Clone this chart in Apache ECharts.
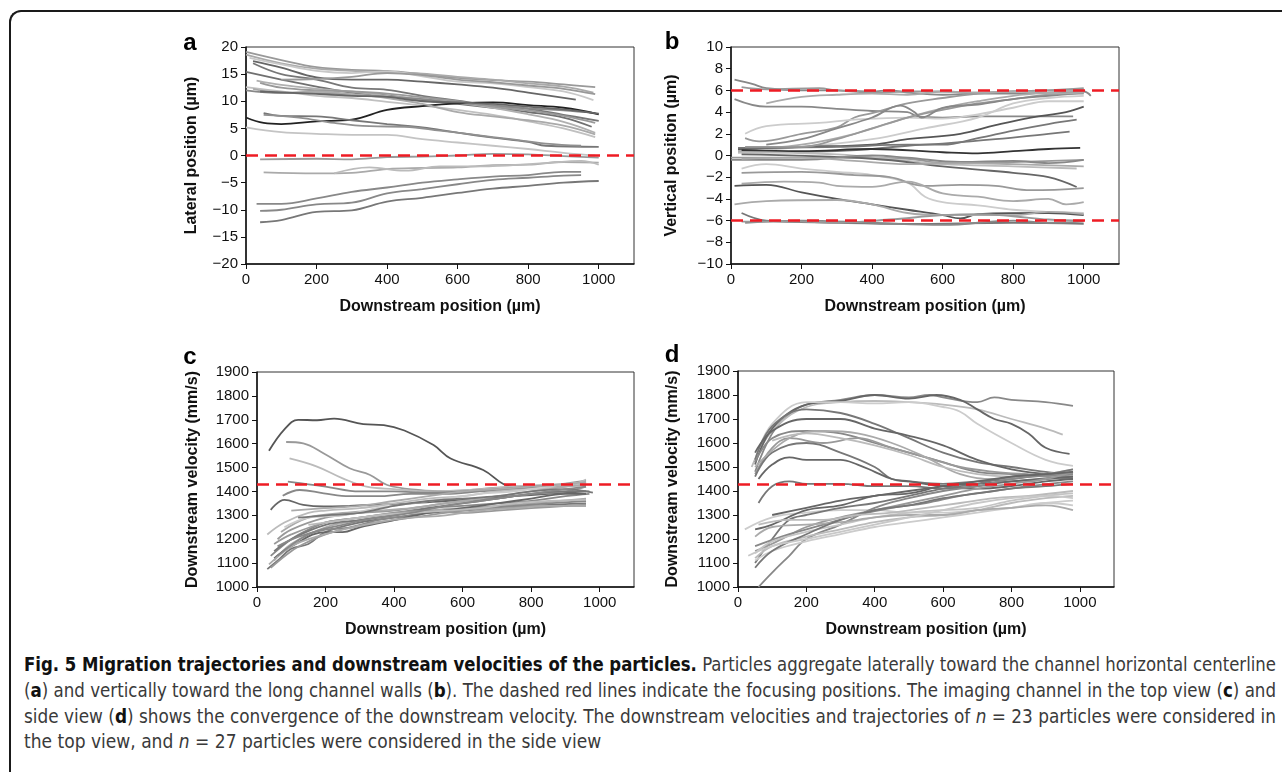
<!DOCTYPE html>
<html lang="en">
<head>
<meta charset="UTF-8">
<title>Fig. 5 Migration trajectories and downstream velocities</title>
<script src="https://cdn.jsdelivr.net/npm/echarts@6/dist/echarts.min.js"></script>
<style>
  html, body { margin: 0; padding: 0; background: #fff; overflow: hidden; }
  #frame {
    position: absolute; left: 9px; top: 10px; width: 1320px; height: 800px;
    border-top: 2.5px solid #1a1a1a; border-left: 2.5px solid #1a1a1a;
    border-radius: 12px 0 0 12px; box-sizing: border-box;
  }
  #main { position: absolute; left: 0; top: 0; width: 1282px; height: 645px; }
  .ln {
    position: absolute; left: 24px; display: inline-block; white-space: nowrap;
    font-family: 'Liberation Sans Narrow', 'DejaVu Sans Condensed', 'Liberation Sans', sans-serif;
    font-size: 19px; color: #3a3a3a; transform-origin: 0 50%;
  }
  .ln b { color: #111; }
</style>
</head>
<body>
<div id="frame"></div>
<div id="main"></div>
<div class="ln" data-w="1252" style="top:653px"><b>Fig. 5 Migration trajectories and downstream velocities of the particles.</b> Particles aggregate laterally toward the channel horizontal centerline</div>
<div class="ln" data-w="1252" style="top:679px">(<b>a</b>) and vertically toward the long channel walls (<b>b</b>). The dashed red lines indicate the focusing positions. The imaging channel in the top view (<b>c</b>) and</div>
<div class="ln" data-w="1252" style="top:705px">side view (<b>d</b>) shows the convergence of the downstream velocity. The downstream velocities and trajectories of <i>n</i> = 23 particles were considered in</div>
<div class="ln" style="top:730px">the top view, and <i>n</i> = 27 particles were considered in the side view</div>
<script type="text/javascript">
// ---- data: each trajectory is [position µm, value] pairs ----
var xTicks = [0, 200, 400, 600, 800, 1000];

// a: lateral position (µm)
var aLines = [
  [[0,19.1],[100,17.6],[200,16.3],[300,15.8],[400,15.6],[500,15.0],[600,14.3],[700,13.9],[800,13.6],[900,13.1],[990,12.6]],
  [[0,18.6],[100,17.0],[200,16.0],[300,15.6],[400,15.3],[500,15.1],[600,14.5],[700,14.0],[800,13.3],[900,12.7],[985,11.6]],
  [[10,18.0],[100,16.8],[200,15.6],[300,15.2],[400,15.5],[500,14.6],[600,13.6],[700,13.3],[800,12.6],[900,11.8],[985,10.2]],
  [[20,17.4],[100,16.2],[200,14.4],[300,14.0],[400,14.0],[500,13.6],[600,13.1],[700,12.5],[800,11.6],[935,10.3]],
  [[20,17.0],[100,15.0],[200,14.0],[300,12.5],[400,12.1],[500,11.0],[600,10.1],[700,9.2],[800,8.6],[900,7.5],[1000,6.4]],
  [[0,15.4],[100,14.0],[200,12.7],[300,11.6],[400,11.1],[500,10.2],[600,9.5],[700,8.8],[800,8.0],[900,7.0],[980,5.3]],
  [[30,13.8],[100,13.0],[200,12.3],[300,11.8],[400,11.0],[500,10.4],[600,9.7],[700,8.8],[800,7.6],[900,6.2],[990,4.2]],
  [[0,12.6],[100,11.8],[200,11.0],[300,10.6],[400,9.9],[500,9.2],[600,8.4],[700,7.5],[800,6.3],[900,5.0],[990,3.4]],
  [[0,12.0],[100,11.5],[200,11.5],[300,11.2],[400,10.8],[500,10.4],[600,9.7],[700,9.2],[800,8.7],[900,8.3],[990,7.8]],
  [[0,7.0],[50,6.0],[100,5.8],[200,6.3],[300,6.6],[400,8.4],[500,9.1],[600,9.6],[700,9.8],[800,9.3],[900,8.8],[1000,7.6]],
  [[0,5.2],[100,4.3],[200,4.0],[300,3.8],[400,3.8],[500,3.0],[600,2.4],[700,1.8],[800,1.2],[900,0.5],[990,0.0]],
  [[50,7.8],[100,7.3],[200,7.2],[300,6.5],[400,5.8],[500,5.2],[600,4.2],[700,3.3],[800,2.5],[850,1.8],[1000,1.6]],
  [[50,7.5],[150,7.0],[250,6.0],[350,5.4],[450,5.3],[550,4.6],[650,3.8],[750,3.0],[850,2.2],[950,1.8]],
  [[40,-0.7],[200,-0.6],[300,-0.7],[400,-0.3],[500,-0.2],[600,0.0],[700,0.3],[800,0.2],[900,-0.1],[1000,-0.4]],
  [[50,-3.1],[200,-3.3],[300,-3.2],[400,-2.5],[500,-2.3],[600,-2.2],[700,-1.8],[800,-1.7],[900,-1.2],[1000,-1.3]],
  [[250,-3.3],[350,-2.2],[450,-2.8],[550,-2.0],[650,-2.0],[750,-1.8],[850,-1.4],[950,-1.0],[1000,-1.7]],
  [[30,-8.9],[100,-8.9],[200,-7.9],[300,-6.7],[400,-5.9],[500,-5.0],[600,-4.4],[700,-3.9],[800,-3.6],[900,-3.0],[950,-3.0]],
  [[40,-10.2],[100,-10.0],[200,-9.0],[300,-8.7],[400,-7.0],[500,-6.2],[600,-5.3],[700,-4.5],[800,-4.1],[900,-3.7],[950,-3.6]],
  [[40,-12.3],[100,-11.9],[200,-10.4],[300,-10.1],[400,-8.5],[500,-7.8],[600,-6.9],[700,-6.1],[800,-5.6],[900,-5.0],[1000,-4.7]],
  [[40,13.4],[100,12.5],[200,12.0],[300,11.8],[400,11.4],[500,10.7],[600,10.0],[700,9.0],[800,8.3],[900,7.3],[990,6.0]],
  [[20,12.3],[100,11.6],[200,11.8],[300,11.3],[400,10.6],[500,9.5],[600,8.0],[700,7.2],[800,6.5],[900,5.5],[990,3.9]],
  [[40,11.8],[150,11.5],[300,11.0],[400,10.8],[500,10.0],[600,9.8],[700,9.5],[800,9.0],[900,8.5],[1000,7.7]],
  [[100,14.0],[200,14.1],[300,14.5],[400,15.2],[500,14.8],[600,14.0],[700,13.5],[800,12.9],[900,12.3],[990,11.3]]
];
var aFocus = [0];

// b: vertical position (µm)
var bLines = [
  [[10,7.0],[60,6.6],[100,6.2],[200,6.0],[300,6.0],[400,5.9],[450,6.0],[500,5.8],[600,5.6],[700,5.7],[800,5.7],[900,5.8],[1000,5.9],[1020,5.5]],
  [[30,6.3],[100,6.1],[250,6.2],[300,6.0],[400,5.8],[500,5.9],[600,5.9],[700,5.8],[800,5.9],[900,6.0],[1000,6.1]],
  [[10,5.2],[100,4.5],[200,4.5],[300,4.3],[400,4.1],[500,4.0],[530,3.6],[600,3.5],[700,3.6],[800,3.6],[900,3.6],[970,3.6]],
  [[40,1.6],[80,1.3],[200,2.0],[300,2.6],[350,3.5],[400,3.9],[500,4.8],[600,5.3],[700,5.7],[800,5.9],[900,6.0],[1000,6.2]],
  [[40,2.0],[100,2.7],[250,3.0],[350,3.3],[500,3.5],[600,3.4],[700,3.8],[800,4.4],[900,5.0],[1000,5.0]],
  [[20,0.5],[200,1.0],[350,2.0],[500,3.5],[620,4.5],[700,5.0],[800,5.5],[900,5.8],[1000,6.0]],
  [[20,0.3],[200,0.8],[400,1.5],[550,2.5],[700,3.5],[800,4.8],[900,5.3],[1000,5.5]],
  [[20,0.6],[200,0.8],[400,1.0],[500,1.5],[650,2.0],[750,2.8],[850,3.5],[950,4.0],[1000,4.5]],
  [[20,0.7],[300,0.8],[500,1.0],[600,1.0],[700,1.6],[800,2.3],[900,2.9],[980,3.3]],
  [[20,0.3],[300,0.4],[500,0.9],[600,1.1],[750,1.5],[900,2.0],[960,2.2]],
  [[30,0.5],[200,0.4],[400,0.6],[600,0.3],[700,0.2],[800,0.4],[900,0.6],[990,0.7]],
  [[0,-0.2],[300,-0.2],[500,-0.3],[600,-0.7],[800,-0.6],[1000,-0.4]],
  [[20,0.3],[300,0.1],[500,-0.5],[600,-0.8],[800,-1.0],[980,-1.2]],
  [[30,0.1],[400,-0.3],[600,-1.0],[700,-1.3],[800,-1.6],[900,-2.0],[980,-2.9]],
  [[30,-1.2],[100,-0.8],[200,-1.2],[300,-1.5],[400,-1.8],[500,-2.5],[550,-3.8],[600,-4.3],[700,-4.6],[800,-5.0],[900,-5.2],[1000,-5.3]],
  [[30,-1.6],[200,-1.5],[350,-1.8],[450,-2.0],[550,-2.8],[650,-2.7],[750,-2.8],[850,-3.2],[1000,-3.0]],
  [[30,-2.6],[150,-2.4],[250,-2.5],[300,-2.8],[400,-2.9],[500,-2.4],[600,-3.5],[700,-3.8],[800,-4.2],[900,-4.0],[950,-4.5],[1000,-4.3]],
  [[10,-2.8],[100,-2.7],[200,-3.4],[300,-4.0],[400,-4.5],[500,-5.0],[600,-5.5],[650,-5.8],[700,-5.4],[900,-5.3],[1000,-5.5]],
  [[10,-4.5],[100,-4.2],[300,-4.1],[400,-4.5],[500,-5.3],[600,-5.5],[700,-5.5],[800,-5.5],[900,-5.2],[1000,-5.4]],
  [[30,-5.3],[100,-6.0],[300,-6.2],[500,-6.3],[800,-6.2],[1000,-6.3]],
  [[40,-6.2],[200,-6.0],[400,-6.2],[600,-6.4],[800,-6.0],[900,-6.2],[1000,-6.1]],
  [[0,-0.4],[200,-0.4],[400,0.0],[500,-0.2],[650,-0.6],[800,-0.5],[900,-0.7],[1000,-0.4]],
  [[40,0.8],[200,0.8],[300,1.5],[400,2.5],[500,3.5],[600,4.2],[700,4.8],[800,5.2],[900,5.6],[1000,5.7]],
  [[100,1.0],[200,1.5],[300,2.5],[400,3.5],[480,4.6],[520,4.0],[540,3.5],[600,4.4],[700,4.7],[800,5.2],[900,5.5],[1000,5.8]],
  [[100,4.8],[200,5.4],[300,5.6],[400,5.7],[500,5.6],[600,5.9],[700,5.8],[800,5.9],[900,5.7],[1000,5.8]],
  [[30,-0.3],[200,-0.2],[350,-0.5],[500,-0.8],[650,-0.7],[800,-0.8],[1000,-1.0]],
  [[30,-6.1],[200,-6.1],[300,-6.2],[450,-5.9],[600,-5.5],[700,-5.4],[800,-5.6],[900,-5.9],[1000,-6.0]]
];
var bFocus = [6, -6];

// c: downstream velocity (mm/s), top view
var cLines = [
  [[35,1570],[80,1660],[120,1700],[175,1698],[225,1705],[310,1682],[370,1678],[430,1655],[515,1594],[565,1538],[660,1490],[720,1430],[760,1420]],
  [[85,1607],[135,1601],[195,1559],[270,1497],[330,1469],[380,1427],[470,1406],[560,1400],[650,1410],[750,1420],[850,1425],[960,1445]],
  [[95,1538],[175,1504],[250,1455],[320,1420],[400,1410],[500,1400],[600,1405],[700,1415],[800,1425],[960,1435]],
  [[90,1441],[150,1430],[200,1420],[300,1400],[400,1400],[500,1395],[600,1400],[700,1410],[800,1420],[900,1430],[960,1440]],
  [[75,1382],[125,1406],[195,1392],[270,1380],[350,1380],[450,1390],[550,1390],[650,1400],[750,1410],[850,1420],[960,1425]],
  [[40,1323],[80,1365],[135,1344],[195,1337],[270,1340],[350,1345],[450,1350],[550,1360],[650,1370],[750,1380],[850,1390],[960,1400]],
  [[30,1220],[80,1270],[150,1310],[200,1320],[300,1330],[400,1350],[500,1370],[600,1380],[700,1400],[800,1410],[900,1420],[960,1450]],
  [[40,1130],[100,1200],[150,1240],[200,1270],[300,1290],[400,1310],[500,1330],[600,1340],[700,1350],[800,1360],[900,1380],[970,1390]],
  [[30,1075],[60,1110],[100,1160],[150,1180],[200,1230],[300,1270],[400,1290],[500,1310],[600,1320],[700,1330],[800,1340],[960,1350]],
  [[40,1080],[100,1150],[150,1190],[200,1220],[300,1260],[400,1280],[500,1300],[600,1320],[700,1330],[800,1340],[960,1340]],
  [[50,1110],[100,1180],[200,1250],[300,1280],[400,1300],[500,1320],[600,1330],[700,1340],[800,1350],[960,1370]],
  [[60,1200],[100,1240],[200,1290],[300,1310],[400,1320],[500,1340],[600,1360],[700,1370],[800,1390],[900,1400],[960,1420]],
  [[70,1230],[150,1290],[250,1310],[350,1320],[450,1330],[550,1350],[650,1370],[750,1390],[850,1410],[960,1430]],
  [[50,1150],[100,1200],[200,1260],[300,1280],[400,1300],[500,1330],[600,1350],[700,1370],[800,1390],[900,1400],[970,1400]],
  [[60,1170],[120,1210],[200,1240],[280,1250],[350,1280],[450,1300],[550,1320],[650,1330],[750,1340],[850,1350],[960,1360]],
  [[50,1120],[100,1170],[200,1230],[250,1230],[300,1250],[400,1280],[500,1310],[600,1330],[700,1350],[800,1370],[900,1390],[960,1390]],
  [[80,1250],[150,1290],[250,1300],[350,1330],[450,1350],[550,1370],[650,1390],[750,1400],[850,1420],[960,1440]],
  [[100,1320],[200,1330],[300,1340],[400,1360],[500,1380],[600,1400],[700,1410],[800,1420],[900,1430],[960,1440]],
  [[50,1180],[100,1220],[200,1270],[300,1290],[400,1310],[500,1320],[600,1310],[700,1320],[800,1330],[960,1345]],
  [[120,1290],[200,1300],[300,1310],[400,1340],[500,1360],[600,1370],[700,1380],[800,1400],[900,1410],[980,1395]],
  [[35,1095],[100,1170],[150,1200],[250,1240],[350,1270],[450,1290],[550,1300],[650,1320],[750,1330],[850,1340],[960,1340]],
  [[150,1260],[250,1280],[350,1300],[450,1310],[550,1320],[650,1330],[750,1350],[850,1360],[960,1365]],
  [[60,1130],[150,1220],[250,1260],[350,1290],[450,1310],[550,1340],[650,1360],[750,1380],[850,1400],[960,1420]]
];
var cFocus = [1430];

// d: downstream velocity (mm/s), side view
var dLines = [
  [[50,1480],[100,1640],[150,1720],[200,1760],[300,1780],[400,1800],[500,1790],[560,1800],[600,1790],[700,1770],[750,1790],[800,1780],[900,1770],[980,1755]],
  [[40,1500],[100,1650],[200,1750],[300,1770],[400,1775],[500,1770],[600,1760],[700,1740],[800,1700],[900,1660],[950,1635]],
  [[50,1510],[100,1660],[200,1760],[300,1775],[400,1800],[500,1785],[580,1800],[650,1780],[700,1740],[750,1700],[800,1680],[850,1640],[900,1580],[970,1555]],
  [[50,1530],[100,1680],[200,1770],[300,1770],[400,1765],[500,1770],[600,1750],[650,1730],[700,1680],[800,1600],[900,1530],[980,1505]],
  [[50,1530],[100,1670],[200,1740],[300,1725],[400,1680],[500,1620],[600,1560],[700,1520],[800,1500],[900,1480],[980,1470]],
  [[50,1560],[100,1650],[200,1700],[300,1700],[400,1660],[500,1630],[600,1590],[700,1530],[800,1490],[900,1470],[980,1460]],
  [[50,1520],[100,1620],[200,1650],[300,1640],[400,1600],[500,1560],[600,1520],[700,1480],[800,1470],[900,1460],[980,1450]],
  [[50,1470],[100,1580],[150,1620],[250,1600],[350,1620],[450,1580],[550,1540],[650,1500],[750,1480],[850,1470],[980,1460]],
  [[50,1460],[100,1560],[200,1600],[300,1560],[400,1500],[450,1450],[500,1440],[600,1430],[700,1440],[800,1450],[900,1470],[980,1480]],
  [[60,1450],[100,1510],[150,1540],[200,1530],[300,1530],[350,1510],[400,1480],[450,1450],[500,1440],[600,1420],[700,1410],[800,1420],[900,1440],[980,1450]],
  [[50,1500],[150,1620],[250,1650],[350,1640],[450,1600],[550,1540],[650,1470],[750,1450],[850,1460],[980,1470]],
  [[100,1610],[200,1640],[300,1620],[400,1590],[500,1550],[600,1500],[700,1470],[800,1460],[980,1490]],
  [[60,1350],[100,1420],[150,1440],[200,1430],[300,1430],[400,1420],[500,1420],[600,1410],[700,1420],[800,1440],[980,1460]],
  [[20,1240],[100,1290],[200,1310],[300,1320],[400,1320],[500,1310],[600,1310],[700,1320],[800,1330],[900,1350],[980,1360]],
  [[50,1240],[100,1260],[200,1320],[300,1340],[400,1380],[500,1390],[600,1420],[700,1430],[800,1440],[900,1450],[980,1460]],
  [[50,1100],[100,1200],[150,1280],[200,1300],[300,1330],[400,1350],[500,1380],[600,1410],[700,1430],[800,1460],[900,1470],[980,1490]],
  [[60,1000],[100,1060],[150,1130],[200,1200],[300,1260],[400,1330],[500,1370],[600,1400],[700,1420],[800,1450],[980,1470]],
  [[50,1150],[100,1180],[200,1250],[300,1290],[400,1320],[500,1350],[600,1380],[700,1410],[800,1430],[900,1450],[980,1480]],
  [[50,1170],[150,1220],[250,1260],[350,1300],[450,1330],[550,1350],[650,1380],[750,1400],[850,1420],[980,1440]],
  [[50,1110],[100,1150],[200,1190],[300,1220],[400,1250],[500,1270],[600,1290],[700,1310],[800,1330],[900,1350],[980,1340]],
  [[50,1120],[100,1170],[200,1210],[300,1240],[400,1270],[500,1290],[600,1300],[700,1320],[800,1350],[900,1370],[980,1380]],
  [[50,1140],[100,1190],[200,1230],[300,1260],[400,1290],[500,1310],[600,1320],[700,1330],[800,1360],[900,1380],[980,1390]],
  [[50,1210],[100,1250],[200,1260],[300,1270],[400,1290],[500,1300],[600,1300],[700,1320],[800,1330],[900,1340],[980,1320]],
  [[50,1080],[100,1150],[200,1220],[300,1280],[400,1320],[500,1340],[600,1370],[700,1390],[800,1410],[900,1420],[980,1430]],
  [[60,1260],[150,1280],[250,1280],[350,1300],[450,1310],[550,1330],[650,1350],[750,1370],[850,1380],[980,1400]],
  [[100,1300],[200,1330],[300,1360],[400,1380],[500,1400],[600,1420],[700,1440],[800,1460],[900,1470],[980,1480]],
  [[30,1130],[100,1170],[200,1200],[300,1230],[400,1260],[500,1290],[600,1320],[700,1350],[800,1370],[900,1380],[980,1370]]
];
var dFocus = [1430];

// grey shade of each trajectory (styles only)
var aGreys = ['#999','#aaa','#c8c8c8','#666','#777','#707070','#b0b0b0','#c0c0c0','#888','#222','#c4c4c4','#777','#909090',
              '#999','#aaa','#bbb','#888','#888','#777','#999','#aaa','#666','#999'];
var bGreys = ['#888','#999','#888','#999','#ccc','#aaa','#ccc','#555','#777','#777','#333','#999','#bbb','#666',
              '#ccc','#999','#aaa','#555','#aaa','#777','#888','#888','#999','#888','#aaa','#aaa','#999'];
var cGreys = ['#555','#999','#bbb','#888','#888','#666','#bbb','#888','#777','#999','#aaa','#999','#aaa','#777',
              '#888','#666','#ccc','#aaa','#999','#777','#aaa','#bbb','#888'];
var dGreys = ['#888','#bbb','#666','#ccc','#777','#666','#888','#999','#777','#666','#aaa','#bbb','#777',
              '#ccc','#666','#777','#888','#999','#888','#ccc','#bbb','#c4c4c4','#aaa','#777','#bbb','#666','#c8c8c8'];

var FONT = 'Liberation Sans, Arial, sans-serif';
var myChart = echarts.init(document.getElementById('main'));

var grids = [
  { left: 246, top: 47, width: 388, height: 217 },
  { left: 731, top: 47, width: 388, height: 217 },
  { left: 257, top: 372, width: 377, height: 215 },
  { left: 738, top: 371, width: 376, height: 216 }
];
var yDefs = [
  { name: 'Lateral position (µm)', min: -20, max: 20, interval: 5, gap: 46 },
  { name: 'Vertical position (µm)', min: -10, max: 10, interval: 2, gap: 51 },
  { name: 'Downstream velocity (mm/s)', min: 1000, max: 1900, interval: 100, gap: 56 },
  { name: 'Downstream velocity (mm/s)', min: 1000, max: 1900, interval: 100, gap: 57 }
];

function minus(v) { return String(v).replace('-', '\u2212'); }

var xAxes = grids.map(function (g, i) {
  return {
    type: 'value', gridIndex: i, min: 0, max: 1100, interval: 200,
    name: 'Downstream position (µm)', nameLocation: 'middle', nameGap: 35,
    nameTextStyle: { fontFamily: FONT, fontWeight: 'bold', fontSize: 16, color: '#111' },
    axisLine: { show: true, onZero: false, lineStyle: { color: '#111', width: 1.5 } },
    axisTick: { show: true, length: 5, lineStyle: { color: '#111', width: 1 } },
    axisLabel: { fontFamily: FONT, fontSize: 15, color: '#111', margin: 8, showMaxLabel: false,
      formatter: function (v) { return xTicks.indexOf(v) >= 0 ? v : ''; } },
    splitLine: { show: false }
  };
});
var yAxes = yDefs.map(function (d, i) {
  return {
    type: 'value', gridIndex: i, min: d.min, max: d.max, interval: d.interval,
    name: d.name, nameLocation: 'middle', nameGap: d.gap,
    nameTextStyle: { fontFamily: FONT, fontWeight: 'bold', fontSize: 16, color: '#111' },
    axisLine: { show: true, onZero: false, lineStyle: { color: '#111', width: 1.5 } },
    axisTick: { show: true, length: 5, lineStyle: { color: '#111', width: 1 } },
    axisLabel: { fontFamily: FONT, fontSize: 15, color: '#111', margin: 8, formatter: minus },
    splitLine: { show: false }
  };
});

function panelSeries(lines, greys, gi, focus) {
  var s = lines.map(function (pts, i) {
    return {
      type: 'line', xAxisIndex: gi, yAxisIndex: gi, data: pts,
      smooth: 0.4, symbol: 'none', silent: true, z: 2,
      lineStyle: { color: greys[i], width: 1.8 }
    };
  });
  // red dashed focusing positions
  s.push({
    type: 'line', xAxisIndex: gi, yAxisIndex: gi, data: [], z: 5, silent: true,
    markLine: {
      silent: true, symbol: 'none', label: { show: false },
      lineStyle: { color: '#ee1c24', type: [12, 7], width: 2.5 },
      data: focus.map(function (v) { return { yAxis: v }; })
    }
  });
  return s;
}

var series = [].concat(
  panelSeries(aLines, aGreys, 0, aFocus),
  panelSeries(bLines, bGreys, 1, bFocus),
  panelSeries(cLines, cGreys, 2, cFocus),
  panelSeries(dLines, dGreys, 3, dFocus)
);

var panelLabels = [['a', 190, 43], ['b', 672, 42], ['c', 190, 357], ['d', 672, 355]];

var option = {
  animation: false,
  grid: grids.map(function (g) {
    return { left: g.left, top: g.top, width: g.width, height: g.height, show: true,
      borderColor: '#333', borderWidth: 1, backgroundColor: 'transparent' };
  }),
  xAxis: xAxes,
  yAxis: yAxes,
  series: series,
  graphic: panelLabels.map(function (p) {
    return { type: 'text', x: p[1], y: p[2], style: { text: p[0], font: 'bold 24px ' + FONT,
      fill: '#000', align: 'center', verticalAlign: 'middle' } };
  })
};

myChart.setOption(option);

// stretch full caption lines to the column width (squeeze if too long)
document.querySelectorAll('.ln').forEach(function (el) {
  var target = +el.dataset.w;
  if (!target) return;
  var w = el.getBoundingClientRect().width;
  var n = (el.textContent.match(/ /g) || []).length;
  var extra = (target - w) / n;
  if (extra >= 0) el.style.wordSpacing = extra + 'px';
  else el.style.transform = 'scaleX(' + (target / w) + ')';
});
</script>
</body>
</html>
